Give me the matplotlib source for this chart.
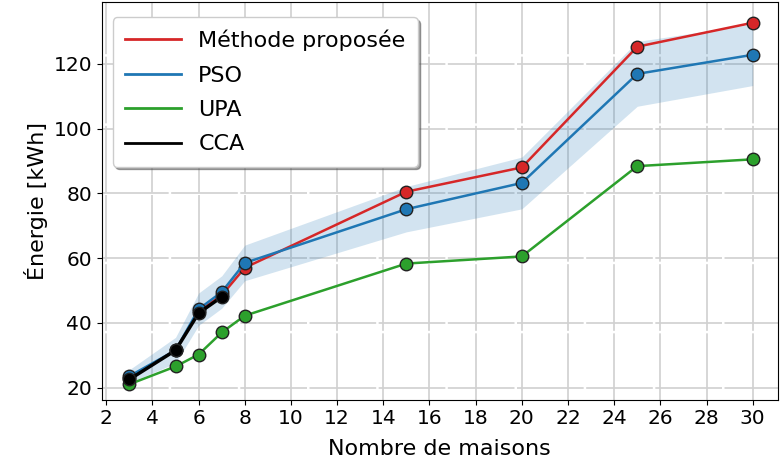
import numpy as np
import matplotlib.pyplot as plt

maisons = [3, 5, 6, 7, 8, 15, 20, 25, 30]
propose = [23.0, 31.5, 43.5, 48.5, 57.0, 80.5, 88.0, 125.3, 132.7]
pso = [23.5, 31.5, 44.2, 49.5, 58.5, 75.1, 83.2, 116.9, 122.8]
pso_std = [2.0, 4.0, 5.0, 5.0, 5.5, 7.0, 8.0, 10.0, 9.5]
upa = [21.0, 26.5, 30.2, 37.0, 42.2, 58.3, 60.5, 88.4, 90.5]
cca_maisons = [3, 5, 6, 7]
cca = [22.5, 31.5, 43.0, 48.0]

plt.rcParams['font.family'] = 'DejaVu Sans'
fig, ax = plt.subplots(figsize=(7.82, 4.70), dpi=100)

x = np.array(maisons)
p = np.array(pso)
s = np.array(pso_std)
ax.fill_between(x, p - s, p + s, color="#1f77b4", alpha=0.2, lw=0)

series = [
    (maisons, propose, "#d62728", "Méthode proposée"),
    (maisons, pso, "#1f77b4", "PSO"),
    (maisons, upa, "#2ca02c", "UPA"),
    (cca_maisons, cca, "black", "CCA"),
]
lw = [1.8, 1.8, 1.8, 2.5]
for (xs, ys, c, lab), w in zip(series, lw):
    ax.plot(xs, ys, color=c, lw=w, label=lab)
    ax.plot(xs, ys, ls="none", marker="o", ms=9, mfc=c, mec="#222222", mew=1.0)

ax.set_xlim(1.8, 31.1)
ax.set_ylim(16.3, 139)
ax.set_xticks(np.arange(2, 31, 2))
ax.set_yticks(np.arange(20, 121, 20))
ax.tick_params(labelsize=14.5)
ax.grid(True, color="#d0d0d0", lw=1.2, dashes=(40, 1.5))
ax.set_axisbelow(True)
ax.set_xlabel("Nombre de maisons", fontsize=16, labelpad=8)
ax.set_ylabel("Énergie [kWh]", fontsize=16)

leg = ax.legend(loc="upper left", fontsize=16, shadow=True, fancybox=True,
                framealpha=1, handlelength=2.5, borderpad=0.55,
                labelspacing=0.65, bbox_to_anchor=(0.0, 0.99))
for h in leg.get_lines():
    h.set_linewidth(2)

fig.subplots_adjust(left=0.13, right=0.995, top=0.995, bottom=0.15)
fig.savefig("out.png")
